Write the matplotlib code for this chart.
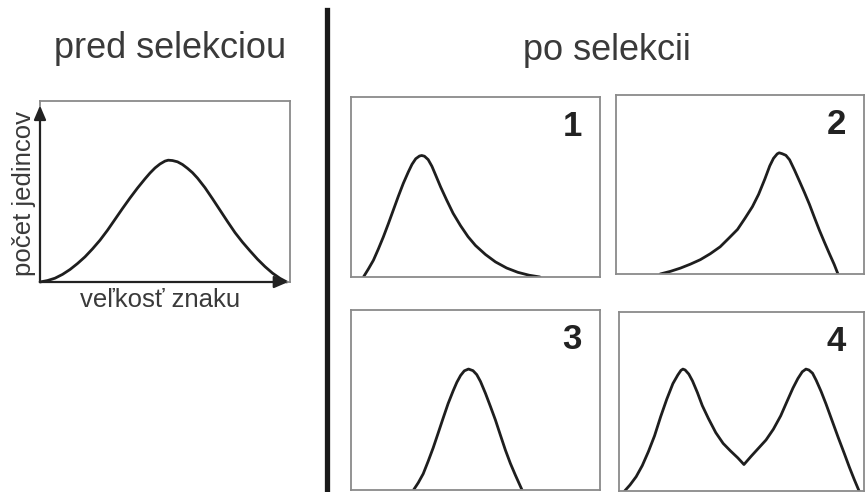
import matplotlib
matplotlib.use("Agg")
import matplotlib.pyplot as plt

plt.rcParams['font.family'] = ['Liberation Sans', 'DejaVu Sans']

# distribution before selection (x, y in percent of the box)
pred_x = [0, 3, 6, 9, 12, 15, 18, 21, 24, 27, 30, 33, 36, 39, 42, 44, 46, 48, 50, 51.3,
          53, 55, 57, 59, 61, 63, 66, 69, 72, 75, 78, 81, 84, 87, 90, 93, 96, 98.7]
pred_y = [0, 0.8, 2.1, 4.2, 6.9, 10.2, 13.9, 18.3, 23.1, 28.6, 34.6, 40.6, 46.4, 51.9, 57.0, 60.2, 63.0, 65.2, 66.8, 67.3,
          67.1, 66.4, 64.9, 62.8, 60.4, 57.4, 52.1, 46.0, 39.7, 33.4, 27.3, 22.0, 17.2, 12.6, 8.5, 4.9, 2.0, 0]

# distributions after selection, panels 1-4
sel1_x = [5.0, 7, 9, 11, 13, 15, 17, 19, 21, 23, 24.5, 26, 27.5, 28.4, 29.5, 31, 32.5, 34, 36,
          38.4, 41, 44, 47, 50, 54, 58, 62.5, 67, 71.5, 75.9]
sel1_y = [0, 4.5, 9.3, 15.6, 22.3, 29.6, 37.2, 44.8, 52.0, 58.3, 62.6, 65.7, 67.2, 67.5, 67.1, 65.2, 61.5, 56.6, 50.0,
          42.8, 35.4, 28.5, 22.4, 17.5, 12.5, 8.4, 5.0, 2.6, 1.0, 0]

sel2_x = [17.8, 22, 26, 30, 34, 38, 42, 45.5, 49, 52, 55, 57.5, 60, 62, 63.5, 65, 65.8,
          67, 68.5, 70, 72, 74, 76, 78, 80, 82, 84, 86, 88, 89.5]
sel2_y = [0, 1.5, 3.3, 5.5, 8.0, 11.3, 15.2, 20.0, 24.9, 31.1, 37.6, 44.5, 53.0, 60.4, 64.6, 67.1, 67.7,
          67.2, 66.3, 63.8, 58.0, 51.8, 45.5, 38.9, 31.6, 24.5, 17.9, 11.5, 5.3, 0]

sel3_x = [25.1, 27, 29, 31, 33, 35, 37, 39, 41, 42.5, 44, 45.5, 47.2, 49, 50.5, 52,
          54, 56, 58, 60, 62, 64, 66, 68.7]
sel3_y = [0, 4.0, 9.0, 16.0, 23.4, 31.6, 39.9, 48.0, 55.0, 59.8, 63.6, 66.2, 67.2, 66.3, 64.1, 60.3,
          53.7, 46.4, 38.9, 30.5, 22.2, 14.8, 8.3, 0]

sel4_x = [2.3, 4.5, 7, 9.5, 12, 14.5, 17, 19.5, 22, 24, 25.3, 26.1, 27, 28.5, 30, 32, 34, 36.5,
          39.5, 42.5, 45.5, 48.5, 51, 54, 57, 60, 63, 66, 68.5, 71, 73, 74.8, 76.3, 77.5,
          79, 80.5, 82.5, 84.5, 87, 89.5, 92, 94, 96, 98]
sel4_y = [0, 3.4, 8.0, 14.2, 22.0, 30.8, 41.5, 51.3, 60.0, 64.8, 67.4, 68.1, 67.6, 65.3, 61.5, 55.0, 47.7, 40.5,
          32.6, 26.6, 22.4, 18.5, 14.8, 19.5, 24.0, 28.5, 34.5, 42.0, 49.8, 57.5, 62.8, 66.6, 68.1, 67.6,
          65.8, 61.8, 55.6, 48.6, 39.2, 29.8, 20.8, 13.4, 6.5, 0]

panels = [
    ("1", sel1_x, sel1_y, [351, 97, 600, 277]),
    ("2", sel2_x, sel2_y, [616, 95, 864, 274]),
    ("3", sel3_x, sel3_y, [351, 310, 600, 490]),
    ("4", sel4_x, sel4_y, [619, 312, 864, 491]),
]

W, H = 866, 492
fig = plt.figure(figsize=(W / 100, H / 100), dpi=100)

box_col = '#8a8a8a'
line_col = '#1e1e1e'
text_col = '#3a3a3a'


def add_box(x0, y0, x1, y1):
    ax = fig.add_axes([x0 / W, 1 - y1 / H, (x1 - x0) / W, (y1 - y0) / H])
    ax.set_xlim(0, 100)
    ax.set_ylim(0, 100)
    ax.set_xticks([])
    ax.set_yticks([])
    for s in ax.spines.values():
        s.set_color(box_col)
        s.set_linewidth(1.3)
    return ax


# left: before selection, with arrow axes
ax0 = add_box(40, 101, 290, 282)
ax0.plot(pred_x, pred_y, color=line_col, lw=2.0, solid_capstyle='round',
         solid_joinstyle='round', clip_on=False)
arrow = dict(arrowstyle='-|>,head_length=0.7,head_width=0.3', color='#222222',
             lw=1.6, mutation_scale=12, shrinkA=0, shrinkB=0)
ax0.annotate('', xy=(0, 0.975), xytext=(0, 0), xycoords='axes fraction', arrowprops=arrow)
ax0.annotate('', xy=(0.993, 0), xytext=(0, 0), xycoords='axes fraction', arrowprops=arrow)

fig.text(170 / W, 1 - 58 / H, 'pred selekciou', fontsize=26, color=text_col,
         ha='center', va='baseline')
fig.text(24 / W, 1 - 194 / H, 'počet jedincov', fontsize=18.5, color=text_col,
         rotation=90, ha='center', va='center')
fig.text(160 / W, 1 - 307 / H, 'veľkosť znaku', fontsize=18.5, color=text_col,
         ha='center', va='baseline')

# divider
fig.add_artist(plt.Line2D([327 / W, 327 / W], [0, 1 - 10 / H], color='#1a1a1a', lw=3.8,
                          transform=fig.transFigure))

# right: after selection
fig.text(607 / W, 1 - 60 / H, 'po selekcii', fontsize=26, color=text_col,
         ha='center', va='baseline')

for label, xs, ys, (x0, y0, x1, y1) in panels:
    ax = add_box(x0, y0, x1, y1)
    ax.plot(xs, ys, color=line_col, lw=2.0, solid_capstyle='round', solid_joinstyle='round')
    ax.text(1 - 18 / (x1 - x0), 1 - 13 / (y1 - y0), label, transform=ax.transAxes,
            fontsize=25, fontweight='bold', color='#222222', ha='right', va='top')

fig.savefig('out.png', dpi=100)
